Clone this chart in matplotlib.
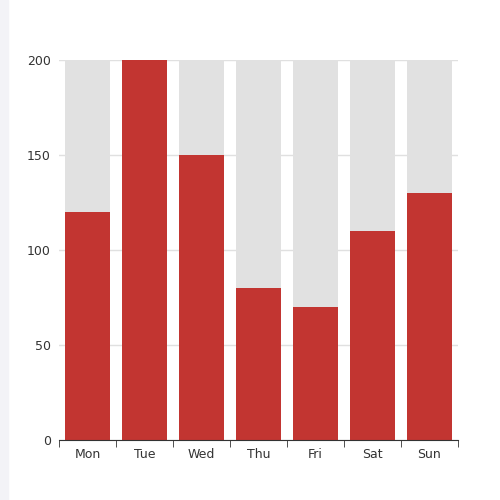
import matplotlib
matplotlib.use("Agg")
from matplotlib import pyplot as plt
import matplotlib.patches as mpatches

days = ["Mon", "Tue", "Wed", "Thu", "Fri", "Sat", "Sun"]
values = [120, 200, 150, 80, 70, 110, 130]
bg_max = 200

fig = plt.figure(figsize=(5, 5), dpi=100)
# light strip on the left edge
fig.patches.append(mpatches.Rectangle((0, 0), 0.016, 1, transform=fig.transFigure,
                                      color="#f3f3f7", zorder=0))
ax = fig.add_axes([0.118, 0.12, 0.798, 0.76])

x = range(len(days))
ax.bar(x, [bg_max] * len(days), width=0.79, color="#e1e1e1", zorder=1)
ax.bar(x, values, width=0.79, color="#c23531", zorder=2)

ax.set_xlim(-0.5, len(days) - 0.5)
ax.set_ylim(0, 200)
ax.set_yticks([0, 50, 100, 150, 200])
ax.set_xticks(x)
ax.set_xticklabels(days)
ax.set_xticks([i - 0.5 for i in range(len(days) + 1)], minor=True)
ax.yaxis.grid(True, color="#e0e0e0", lw=1, zorder=0)
ax.set_axisbelow(True)

for s in ["top", "right", "left"]:
    ax.spines[s].set_visible(False)
ax.spines["bottom"].set_color("#333333")
ax.tick_params(axis="y", length=0, labelsize=9, labelcolor="#333333", pad=6)
ax.tick_params(axis="x", which="major", length=0, labelsize=9, labelcolor="#333333", pad=6)
ax.tick_params(axis="x", which="minor", length=5, color="#333333")

plt.savefig("out.png")
